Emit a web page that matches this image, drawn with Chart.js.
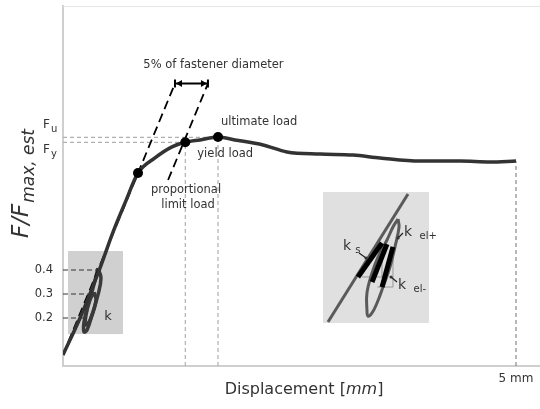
<!DOCTYPE html>
<html>
<head>
<meta charset="utf-8">
<script src="https://cdn.jsdelivr.net/npm/chart.js@4.4.1/dist/chart.umd.min.js"></script>
<style>html,body{margin:0;padding:0;background:#fff}</style>
</head>
<body>
<canvas id="myChart" width="540" height="409"></canvas>
<script>
// load-displacement curve, x in mm, y = F/Fmax,est
const curveX = [0, 0.188, 0.408, 0.552, 0.684, 0.828, 1.015, 1.203, 1.35, 1.512, 1.711, 1.898, 2.208, 2.472, 2.837, 3.201, 3.499, 3.94, 4.382, 4.713, 5.0];
const curveY = [0.046, 0.2, 0.408, 0.558, 0.679, 0.804, 0.867, 0.913, 0.932, 0.942, 0.954, 0.942, 0.921, 0.892, 0.883, 0.879, 0.867, 0.854, 0.854, 0.85, 0.854];

// proportional limit, yield, ultimate
const pointX = [0.828, 1.35, 1.711];
const pointY = [0.804, 0.932, 0.954];
const Fu = 0.953;
const Fy = 0.932;

// ticks
const yTicks = [0.2, 0.3, 0.4];
const yTickLabels = ['0.2', '0.3', '0.4'];
const xTicks = [5];
const xTickLabels = ['5 mm'];
const levelEndX = [0.221, 0.356, 0.375];

// elastic line and the line offset by 5% of fastener diameter
const elasticX = [0.058, 1.236];
const elasticY = [0.1, 1.177];
const offsetX = [1.16, 1.6];
const offsetY = [0.775, 1.177];

// unloading / reloading loops (left inset)
const loop1X = [0.386, 0.419, 0.386, 0.32, 0.265, 0.232, 0.232, 0.276, 0.331, 0.386];
const loop1Y = [0.408, 0.367, 0.296, 0.213, 0.15, 0.142, 0.183, 0.254, 0.325, 0.408];
const loop2X = [0.342, 0.364, 0.309, 0.254, 0.254, 0.298, 0.342];
const loop2Y = [0.308, 0.275, 0.2, 0.171, 0.213, 0.275, 0.308];

// inset boxes [min, max]
const insetAX = [0.055, 0.662];
const insetAY = [0.133, 0.479];
const insetBX = [2.87, 4.04];
const insetBY = [0.179, 0.725];

// enlarged loop (right inset)
const zoomLineX = [2.925, 3.808];
const zoomLineY = [0.183, 0.717];
const ellipseX = [3.698, 3.709, 3.664, 3.609, 3.532, 3.466, 3.411, 3.366, 3.355, 3.355, 3.411, 3.477, 3.576, 3.642, 3.698];
const ellipseY = [0.6125, 0.579, 0.496, 0.4125, 0.329, 0.2625, 0.221, 0.208, 0.233, 0.304, 0.3875, 0.454, 0.525, 0.579, 0.6125];
const ksX = [3.256, 3.521];
const ksY = [0.371, 0.5125];
const kmX = [3.411, 3.576];
const kmY = [0.35, 0.508];
const kelX = [3.521, 3.642];
const kelY = [0.329, 0.496];
const triAX = [3.3, 3.521, 3.521];
const triAY = [0.371, 0.371, 0.483];
const triBX = [3.47, 3.642, 3.642];
const triBY = [0.329, 0.329, 0.45];

const FONT = '"DejaVu Sans", Verdana, sans-serif';
const TXT = '#333';

function pts(xs, ys) {
  return xs.map((v, i) => ({x: v, y: ys[i]}));
}

function lineSet(data, color, width, extra) {
  return Object.assign({
    data: data, showLine: true, borderColor: color, borderWidth: width,
    pointRadius: 0, fill: false, tension: 0
  }, extra || {});
}

function drawSub(c, x, y, base, sub, size, subSize, align, style) {
  style = style || '';
  c.font = style + size + 'px ' + FONT;
  const w1 = c.measureText(base).width;
  c.font = style + subSize + 'px ' + FONT;
  const w2 = c.measureText(sub).width;
  let x0 = x;
  if (align === 'center') x0 = x - (w1 + w2) / 2;
  c.textAlign = 'left';
  c.textBaseline = 'middle';
  c.font = style + size + 'px ' + FONT;
  c.fillText(base, x0, y);
  c.font = style + subSize + 'px ' + FONT;
  c.fillText(sub, x0 + w1 + 1, y + size * 0.35);
}

const annotate = {
  id: 'annotate',
  beforeDatasetsDraw(chart) {
    const {ctx: c, scales: {x, y}, chartArea} = chart;
    c.save();
    c.fillStyle = '#d0d0d0';
    c.fillRect(x.getPixelForValue(insetAX[0]), y.getPixelForValue(insetAY[1]),
      x.getPixelForValue(insetAX[1]) - x.getPixelForValue(insetAX[0]),
      y.getPixelForValue(insetAY[0]) - y.getPixelForValue(insetAY[1]));
    c.fillStyle = '#e0e0e0';
    c.fillRect(x.getPixelForValue(insetBX[0]), y.getPixelForValue(insetBY[1]),
      x.getPixelForValue(insetBX[1]) - x.getPixelForValue(insetBX[0]),
      y.getPixelForValue(insetBY[0]) - y.getPixelForValue(insetBY[1]));
    // faint frame top
    c.strokeStyle = '#e6e6e6';
    c.lineWidth = 1;
    c.beginPath();
    c.moveTo(chartArea.left, chartArea.top + 0.5);
    c.lineTo(chartArea.right, chartArea.top + 0.5);
    c.stroke();
    c.restore();
  },
  afterDatasetsDraw(chart) {
    const {ctx: c, scales: {x, y}} = chart;
    c.save();
    c.fillStyle = TXT;
    c.textBaseline = 'middle';
    c.font = '11.5px ' + FONT;

    const ux = x.getPixelForValue(pointX[2]), uy = y.getPixelForValue(pointY[2]);
    const yx = x.getPixelForValue(pointX[1]), yy = y.getPixelForValue(pointY[1]);
    const px = x.getPixelForValue(pointX[0]), py = y.getPixelForValue(pointY[0]);
    c.textAlign = 'left';
    c.fillText('ultimate load', ux + 3, uy - 15);
    c.fillText('yield load', yx + 12, yy + 12);
    c.textAlign = 'center';
    c.fillText('proportional', px + 48, py + 17);
    c.fillText('limit load', px + 50, py + 32);

    // 5% arrow
    const ax0 = x.getPixelForValue(elasticX[1]), ax1 = x.getPixelForValue(offsetX[1]);
    const ay = y.getPixelForValue(elasticY[1]);
    c.strokeStyle = '#000';
    c.fillStyle = '#000';
    c.lineWidth = 2;
    c.beginPath();
    c.moveTo(ax0, ay); c.lineTo(ax1, ay);
    c.moveTo(ax0, ay - 4); c.lineTo(ax0, ay + 4);
    c.moveTo(ax1, ay - 4); c.lineTo(ax1, ay + 4);
    c.stroke();
    c.beginPath();
    c.moveTo(ax0 + 1, ay); c.lineTo(ax0 + 7, ay - 3.5); c.lineTo(ax0 + 7, ay + 3.5); c.closePath();
    c.moveTo(ax1 - 1, ay); c.lineTo(ax1 - 7, ay - 3.5); c.lineTo(ax1 - 7, ay + 3.5); c.closePath();
    c.fill();
    c.fillStyle = TXT;
    c.textAlign = 'center';
    c.font = '11.5px ' + FONT;
    c.fillText('5% of fastener diameter', (ax0 + ax1) / 2 + 22, ay - 19);

    // Fu / Fy labels
    const left = chart.chartArea.left;
    drawSub(c, left - 20, y.getPixelForValue(Fu) - 12, 'F', 'u', 12, 10, 'left');
    drawSub(c, left - 20, y.getPixelForValue(Fy) + 8, 'F', 'y', 12, 10, 'left');

    // inset labels
    const bx = x.getPixelForValue(insetAX[0]), by = y.getPixelForValue(insetAY[1]);
    c.fillStyle = TXT;
    c.textAlign = 'center';
    c.font = '13px ' + FONT;
    c.fillText('k', bx + 40, by + 66);

    const rx = x.getPixelForValue(insetBX[0]), ry = y.getPixelForValue(insetBY[1]);
    drawSub(c, rx + 20, ry + 54, 'k', ' s', 14, 10, 'left');
    drawSub(c, rx + 81, ry + 40, 'k', '  el+', 14, 10, 'left');
    drawSub(c, rx + 75, ry + 93, 'k', '  el-', 14, 10, 'left');
    c.strokeStyle = '#222';
    c.lineWidth = 1.2;
    const arrows = [[36, 61, 43, 66], [80, 41, 75, 46], [74, 90, 68, 85]];
    arrows.forEach(a => {
      c.beginPath();
      c.moveTo(rx + a[0], ry + a[1]);
      c.lineTo(rx + a[2], ry + a[3]);
      c.stroke();
      c.beginPath();
      c.arc(rx + a[2], ry + a[3], 1.6, 0, Math.PI * 2);
      c.fill();
    });

    // axis titles
    c.fillStyle = TXT;
    c.save();
    c.translate(22, 238);
    c.rotate(-Math.PI / 2);
    drawSub(c, 0, 0, 'F/F', 'max, est', 23, 17, 'left', 'italic ');
    c.restore();

    c.textBaseline = 'middle';
    c.textAlign = 'left';
    const parts = [['Displacement [', ''], ['mm', 'italic '], [']', '']];
    let tw = 0;
    parts.forEach(p => { c.font = p[1] + '16px ' + FONT; tw += c.measureText(p[0]).width; });
    let tx = 304 - tw / 2;
    parts.forEach(p => {
      c.font = p[1] + '16px ' + FONT;
      c.fillText(p[0], tx, 390);
      tx += c.measureText(p[0]).width;
    });
    c.restore();
  }
};

const guideGray = {borderDash: [4, 3], order: 8};
const levelDash = {borderDash: [5, 3], order: 7};

const datasets = [
  lineSet(pts(pointX, pointY), '#000', 0, {showLine: false, pointRadius: 5, pointBackgroundColor: '#000', pointBorderWidth: 0, order: 1}),
  lineSet(pts(ksX, ksY), '#000', 5, {order: 2}),
  lineSet(pts(kmX, kmY), '#000', 5, {order: 2}),
  lineSet(pts(kelX, kelY), '#000', 5, {order: 2}),
  lineSet(pts(curveX, curveY), '#333', 3.5, {cubicInterpolationMode: 'monotone', order: 3}),
  lineSet(pts(elasticX, elasticY), '#000', 1.8, {borderDash: [9, 5], order: 4}),
  lineSet(pts(offsetX, offsetY), '#000', 1.8, {borderDash: [9, 5], order: 4}),
  lineSet(pts(loop1X, loop1Y), '#3a3a3a', 3.5, {tension: 0.4, order: 5}),
  lineSet(pts(loop2X, loop2Y), '#3a3a3a', 3.5, {tension: 0.4, order: 5}),
  lineSet(pts(zoomLineX, zoomLineY), '#5a5a5a', 3, {order: 5}),
  lineSet(pts(ellipseX, ellipseY), '#5a5a5a', 3, {tension: 0.4, order: 5}),
  lineSet(pts(triAX, triAY), '#999', 1, {order: 6}),
  lineSet(pts(triBX, triBY), '#999', 1, {order: 6}),
  lineSet([{x: 0, y: Fu}, {x: pointX[2], y: Fu}], '#b0b0b0', 1.2, guideGray),
  lineSet([{x: 0, y: Fy}, {x: pointX[1], y: Fy}], '#b0b0b0', 1.2, guideGray),
  lineSet([{x: pointX[1], y: 0}, {x: pointX[1], y: pointY[1]}], '#b0b0b0', 1.2, guideGray),
  lineSet([{x: pointX[2], y: 0}, {x: pointX[2], y: pointY[2]}], '#b0b0b0', 1.2, guideGray),
  lineSet([{x: curveX[curveX.length - 1], y: 0}, {x: curveX[curveX.length - 1], y: curveY[curveY.length - 1]}], '#888', 1.2, guideGray)
];
yTicks.forEach((v, i) => {
  datasets.push(lineSet([{x: 0, y: v}, {x: levelEndX[i], y: v}], '#333', 1.2, levelDash));
});

const ctx = document.getElementById('myChart').getContext('2d');
const myChart = new Chart(ctx, {
  type: 'scatter',
  data: {datasets: datasets},
  options: {
    responsive: false,
    animation: false,
    layout: {autoPadding: false, padding: {top: 6, right: 0, left: 0, bottom: 0}},
    plugins: {legend: {display: false}, tooltip: {enabled: false}},
    scales: {
      x: {
        type: 'linear', min: 0, max: 5.265,
        grid: {display: false, drawTicks: false},
        border: {color: '#cfcfcf', width: 2},
        afterBuildTicks: s => { s.ticks = xTicks.map(v => ({value: v})); },
        afterFit: s => { s.height = 43; s.paddingLeft = 0; s.paddingRight = 0; },
        ticks: {
          padding: 6, color: TXT, font: {family: FONT, size: 12},
          callback: v => xTickLabels[xTicks.indexOf(v)]
        }
      },
      y: {
        type: 'linear', min: 0, max: 1.5,
        grid: {display: false, drawTicks: false},
        border: {color: '#cfcfcf', width: 2},
        afterBuildTicks: s => { s.ticks = yTicks.map(v => ({value: v})); },
        afterFit: s => { s.width = 63; s.paddingTop = 0; s.paddingBottom = 0; },
        ticks: {
          padding: 10, color: TXT, font: {family: FONT, size: 11.5},
          callback: v => yTickLabels[yTicks.indexOf(v)]
        }
      }
    }
  },
  plugins: [annotate]
});
</script>
</body>
</html>
